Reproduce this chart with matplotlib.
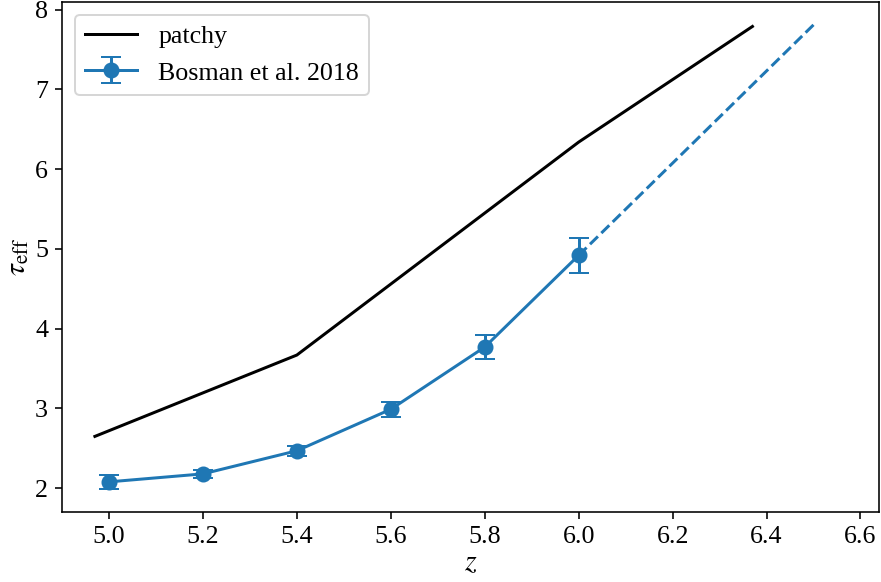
import numpy as np
import matplotlib
matplotlib.use("Agg")
from matplotlib import pyplot as plt

plt.rcParams['font.family'] = ['Liberation Serif', 'DejaVu Serif']
plt.rcParams['mathtext.fontset'] = 'stix'

# patchy reionization model
z_patchy = [4.97, 5.4, 6.0, 6.37]
tau_patchy = [2.65, 3.67, 6.34, 7.79]

# Bosman et al. 2018 measurements
z_obs = [5.0, 5.2, 5.4, 5.6, 5.8, 6.0]
tau_obs = [2.08, 2.18, 2.47, 2.99, 3.77, 4.92]
tau_err = [0.085, 0.05, 0.06, 0.095, 0.15, 0.22]

# extrapolation beyond the last measurement
z_ext = [6.0, 6.5]
tau_ext = [4.92, 7.81]

fig = plt.figure(figsize=(881 / 144, 582 / 144), dpi=144)
ax = fig.add_axes([0.0704, 0.12, 0.9276, 0.877])

ax.plot(z_patchy, tau_patchy, color='black', label='patchy')
ax.plot(z_ext, tau_ext, color='C0', ls='--')
ax.errorbar(z_obs, tau_obs, yerr=tau_err, color='C0', marker='o',
            markersize=7, capsize=5, label='Bosman et al. 2018')

ax.set_xlim(4.9, 6.64)
ax.set_ylim(1.7, 8.1)
ax.set_xlabel('$z$', fontsize=15, labelpad=1)
ax.set_ylabel(r'$\tau_{\rm eff}$', fontsize=15, labelpad=2)
ax.tick_params(labelsize=13)
ax.legend(loc='upper left', fontsize=13)

fig.savefig('out.png', dpi=144)
